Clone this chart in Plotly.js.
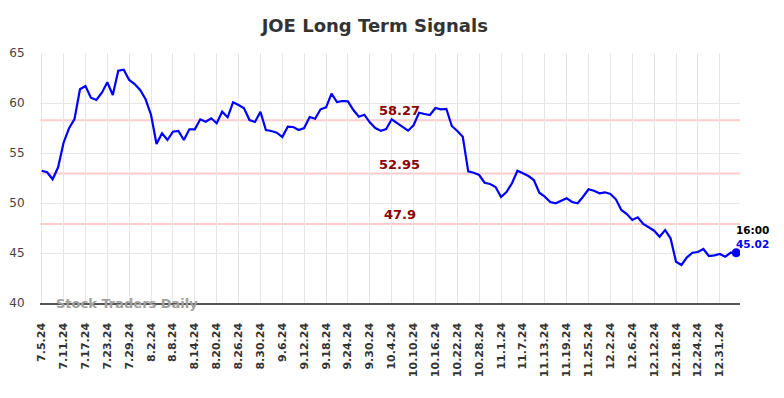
<!DOCTYPE html>
<html>
<head>
<meta charset="utf-8">
<script src="https://cdn.plot.ly/plotly-3.0.1.min.js"></script>
<style>html,body{margin:0;padding:0;background:#fff;}#chart{width:784px;height:398px;}</style>
</head>
<body>
<div id="chart"></div>
<script>
const dates = [
  "7.5.24","7.8.24","7.9.24","7.10.24","7.11.24","7.12.24","7.15.24","7.16.24","7.17.24","7.18.24","7.19.24","7.22.24","7.23.24","7.24.24","7.25.24","7.26.24","7.29.24","7.30.24","7.31.24",
  "8.1.24","8.2.24","8.5.24","8.6.24","8.7.24","8.8.24","8.9.24","8.12.24","8.13.24","8.14.24","8.15.24","8.16.24","8.19.24","8.20.24","8.21.24","8.22.24","8.23.24","8.26.24","8.27.24","8.28.24","8.29.24","8.30.24",
  "9.3.24","9.4.24","9.5.24","9.6.24","9.9.24","9.10.24","9.11.24","9.12.24","9.13.24","9.16.24","9.17.24","9.18.24","9.19.24","9.20.24","9.23.24","9.24.24","9.25.24","9.26.24","9.27.24","9.30.24",
  "10.1.24","10.2.24","10.3.24","10.4.24","10.7.24","10.8.24","10.9.24","10.10.24","10.11.24","10.14.24","10.15.24","10.16.24","10.17.24","10.18.24","10.21.24","10.22.24","10.23.24","10.24.24","10.25.24","10.28.24","10.29.24","10.30.24","10.31.24",
  "11.1.24","11.4.24","11.5.24","11.6.24","11.7.24","11.8.24","11.11.24","11.12.24","11.13.24","11.14.24","11.15.24","11.18.24","11.19.24","11.20.24","11.21.24","11.22.24","11.25.24","11.26.24","11.27.24","11.29.24",
  "12.2.24","12.3.24","12.4.24","12.5.24","12.6.24","12.9.24","12.10.24","12.11.24","12.12.24","12.13.24","12.16.24","12.17.24","12.18.24","12.19.24","12.20.24","12.23.24","12.24.24","12.26.24","12.27.24","12.30.24","12.31.24",
  "1.2.25","1.3.25","1.6.25"
];
const prices = [
  53.23,53.07,52.37,53.57,56.03,57.47,58.4,61.37,61.7,60.53,60.3,61.03,62.07,60.8,63.23,63.33,62.3,61.9,61.3,60.37,
  58.8,55.9,56.97,56.3,57.13,57.2,56.3,57.37,57.37,58.37,58.13,58.47,57.97,59.13,58.57,60.07,59.8,59.47,58.3,58.1,
  59.13,57.3,57.2,57.03,56.6,57.63,57.6,57.3,57.5,58.6,58.43,59.37,59.57,60.93,60.1,60.2,60.17,59.3,58.63,58.83,
  58.07,57.5,57.23,57.4,58.37,57.97,57.57,57.23,57.77,59.03,58.9,58.8,59.5,59.37,59.4,57.7,57.2,56.63,53.17,53.03,
  52.8,52.03,51.9,51.6,50.6,51.1,51.97,53.23,52.97,52.7,52.3,51.03,50.63,50.1,49.97,50.2,50.47,50.1,49.97,50.63,
  51.37,51.23,50.97,51.07,50.9,50.37,49.3,48.9,48.3,48.57,47.9,47.57,47.23,46.63,47.3,46.47,44.13,43.8,44.57,45.03,
  45.1,45.4,44.7,44.77,44.9,44.63,45.03,45.02
];
const tickLabels = ["7.5.24","7.11.24","7.17.24","7.23.24","7.29.24","8.2.24","8.8.24","8.14.24","8.20.24","8.26.24","8.30.24","9.6.24","9.12.24","9.18.24","9.24.24","9.30.24","10.4.24","10.10.24","10.16.24","10.22.24","10.28.24","11.1.24","11.7.24","11.13.24","11.19.24","11.25.24","12.2.24","12.6.24","12.12.24","12.18.24","12.24.24","12.31.24"];
const signalLevels = [58.27, 52.95, 47.9];
const signalLabels = ["58.27", "52.95", "47.9"];
const lastTime = "16:00";
const lastValue = 45.02;

const F = "DejaVu Sans, sans-serif";
const lastDate = dates[dates.length - 1];

const traces = [
  {x: dates, y: prices, type: "scatter", mode: "lines",
   line: {color: "#0000ff", width: 2.2}, hoverinfo: "skip"},
  {x: [lastDate], y: [lastValue], type: "scatter", mode: "markers",
   marker: {color: "#0000ff", size: 9}, hoverinfo: "skip"}
];

const shapes = signalLevels.map(v => ({
  type: "line", xref: "paper", x0: 0, x1: 1, yref: "y", y0: v, y1: v,
  line: {color: "#ffcccc", width: 2}, layer: "below"
}));

const annotations = signalLevels.map((v, i) => ({
  xref: "paper", x: 0.514, yref: "y", y: v, yanchor: "bottom", xanchor: "center",
  text: signalLabels[i], showarrow: false, yshift: 0,
  font: {family: F, size: 13, color: "#8b0000", weight: "bold"}
}));
annotations.push({
  xref: "paper", x: 0.02, yref: "y", y: 40, xanchor: "left", yanchor: "middle",
  text: "Stock Traders Daily", showarrow: false,
  font: {family: F, size: 13, color: "#a0a0a0", weight: "bold"}
});
annotations.push({
  xref: "x", x: lastDate, yref: "y", y: lastValue, xanchor: "left", yanchor: "middle",
  text: lastTime, showarrow: false, yshift: 23, xshift: -2,
  font: {family: F, size: 10.5, color: "#000000", weight: "bold"}
});
annotations.push({
  xref: "x", x: lastDate, yref: "y", y: lastValue, xanchor: "left", yanchor: "middle",
  text: lastValue.toFixed(2), showarrow: false, yshift: 9, xshift: -2,
  font: {family: F, size: 10.5, color: "#0000ff", weight: "bold"}
});

const layout = {
  width: 784, height: 398,
  margin: {l: 40, r: 44, t: 53, b: 95},
  paper_bgcolor: "#ffffff", plot_bgcolor: "#ffffff",
  showlegend: false,
  title: {text: "JOE Long Term Signals", x: 0.478, xanchor: "center", y: 0.935, yanchor: "middle",
          font: {family: F, size: 18, color: "#333333", weight: "bold"}},
  xaxis: {
    type: "category", range: [-0.31, 127.7],
    tickmode: "array", tickvals: tickLabels, ticktext: tickLabels,
    tickangle: -90, tickfont: {family: F, size: 11, color: "#333333", weight: "bold"},
    ticks: "outside", ticklen: 14, tickcolor: "rgba(0,0,0,0)",
    showgrid: true, gridcolor: "#e6e6e6", gridwidth: 1,
    showline: true, linecolor: "#555555", linewidth: 1.5,
    zeroline: false, fixedrange: true
  },
  yaxis: {
    range: [40, 65], tickvals: [40, 45, 50, 55, 60, 65],
    tickfont: {family: F, size: 12, color: "#444444"},
    ticks: "outside", ticklen: 12, tickcolor: "rgba(0,0,0,0)",
    showgrid: true, gridcolor: "#e6e6e6", gridwidth: 1,
    showline: false, zeroline: false, fixedrange: true
  },
  shapes: shapes,
  annotations: annotations
};

Plotly.newPlot("chart", traces, layout, {displayModeBar: false, staticPlot: true});
</script>
</body>
</html>
